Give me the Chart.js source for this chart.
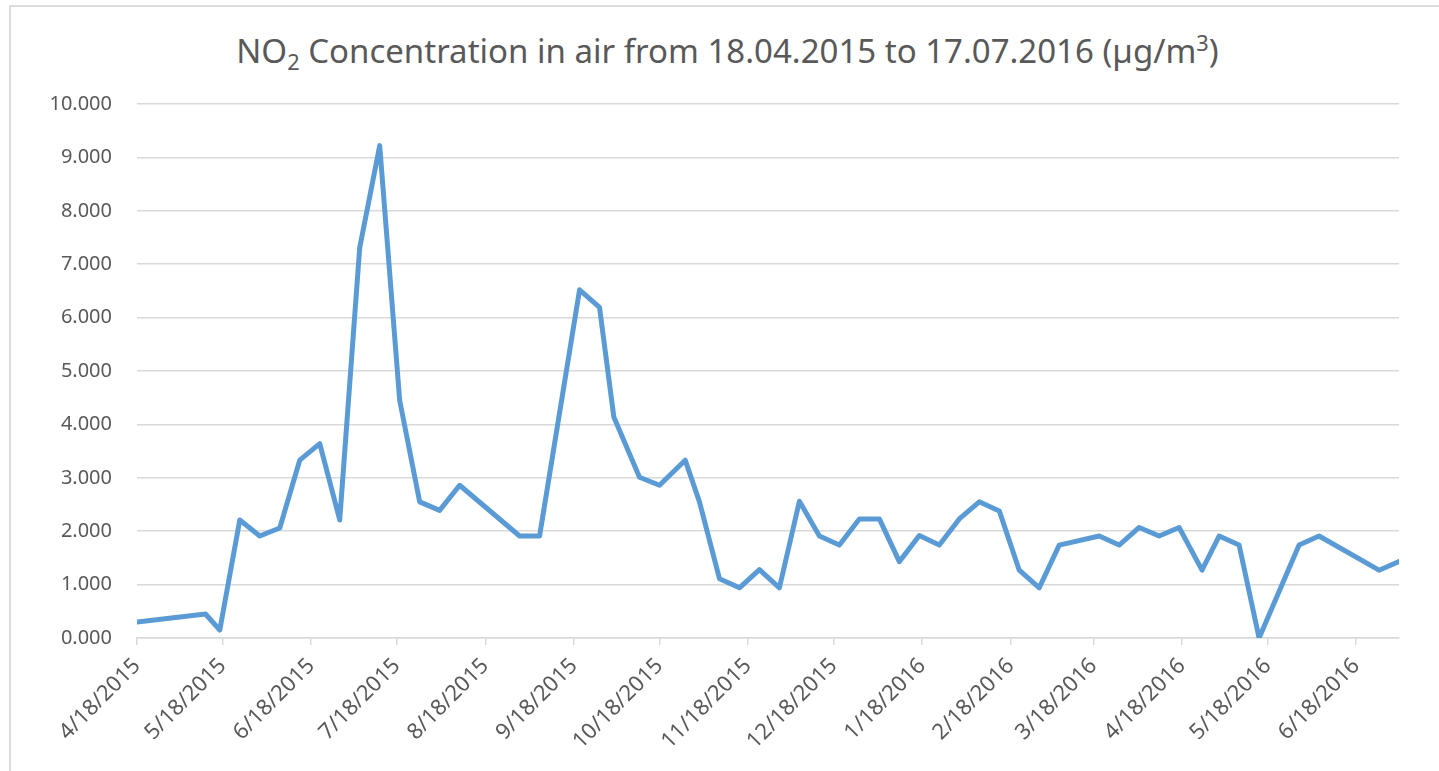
<!DOCTYPE html>
<html>
<head>
<meta charset="utf-8">
<script src="https://cdn.jsdelivr.net/npm/chart.js@4.4.1/dist/chart.umd.min.js"></script>
<style>
  html, body { margin: 0; padding: 0; background: #ffffff; width: 1439px; height: 771px; overflow: hidden; }
  #frame { position: absolute; left: 9px; top: 5px; width: 1500px; height: 820px; border-left: 2px solid #dcdcdc; border-top: 2px solid #dcdcdc; box-sizing: border-box; }
  #title { position: absolute; left: 9px; width: 1437px; top: 35px; height: 40px; line-height: 32px; text-align: center;
           font-family: "Noto Sans", "Open Sans", sans-serif; font-size: 33px; color: #595959; white-space: nowrap; }
  #title sub, #title sup { font-size: 0.66em; line-height: 0; }
  #title sub { vertical-align: -0.3em; }
  #title sup { vertical-align: 0.55em; }
  canvas { position: absolute; left: 0; top: 0; }
</style>
</head>
<body>
<div id="frame"></div>
<div id="title">NO<sub>2</sub> Concentration in air from 18.04.2015 to 17.07.2016 (µg/m<sup>3</sup>)</div>
<canvas id="chart" width="1439" height="771"></canvas>
<script>
// ---- data ----
const startDate = '2015-04-18';
const endDate = '2016-07-03';
const sampleDates = [
  '2015-04-18', '2015-05-12', '2015-05-17', '2015-05-24', '2015-05-31', '2015-06-07',
  '2015-06-14', '2015-06-21', '2015-06-28', '2015-07-05', '2015-07-12', '2015-07-19',
  '2015-07-26', '2015-08-02', '2015-08-09', '2015-08-30', '2015-09-06', '2015-09-20',
  '2015-09-27', '2015-10-02', '2015-10-11', '2015-10-18', '2015-10-27', '2015-11-01',
  '2015-11-08', '2015-11-15', '2015-11-22', '2015-11-29', '2015-12-06', '2015-12-13',
  '2015-12-20', '2015-12-27', '2016-01-03', '2016-01-10', '2016-01-17', '2016-01-24',
  '2016-01-31', '2016-02-07', '2016-02-14', '2016-02-21', '2016-02-28', '2016-03-06',
  '2016-03-20', '2016-03-27', '2016-04-03', '2016-04-10', '2016-04-17', '2016-04-25',
  '2016-05-01', '2016-05-08', '2016-05-15', '2016-05-29', '2016-06-05', '2016-06-26',
  '2016-07-03'
];
const no2Values = [
  0.30, 0.45, 0.15, 2.21, 1.91, 2.06,
  3.33, 3.64, 2.21, 7.31, 9.22, 4.45,
  2.55, 2.39, 2.86, 1.91, 1.91, 6.52,
  6.19, 4.14, 3.01, 2.86, 3.33, 2.55,
  1.11, 0.94, 1.28, 0.94, 2.56, 1.91,
  1.74, 2.23, 2.23, 1.43, 1.92, 1.74,
  2.23, 2.55, 2.38, 1.27, 0.94, 1.74,
  1.91, 1.74, 2.07, 1.91, 2.07, 1.27,
  1.91, 1.74, 0.00, 1.74, 1.91, 1.27,
  1.43
];
const tickDates = [
  '2015-04-18', '2015-05-18', '2015-06-18', '2015-07-18', '2015-08-18', '2015-09-18',
  '2015-10-18', '2015-11-18', '2015-12-18', '2016-01-18', '2016-02-18', '2016-03-18',
  '2016-04-18', '2016-05-18', '2016-06-18'
];
const tickLabels = [
  '4/18/2015', '5/18/2015', '6/18/2015', '7/18/2015', '8/18/2015', '9/18/2015',
  '10/18/2015', '11/18/2015', '12/18/2015', '1/18/2016', '2/18/2016', '3/18/2016',
  '4/18/2016', '5/18/2016', '6/18/2016'
];
const yMin = 0, yMax = 10, yStep = 1;

// ---- helpers ----
function toUTC(s) { const p = s.split('-').map(Number); return Date.UTC(p[0], p[1] - 1, p[2]); }
function dayOf(s) { return Math.round((toUTC(s) - toUTC(startDate)) / 86400000); }
const tickDays = tickDates.map(dayOf);
const points = sampleDates.map((d, i) => ({ x: dayOf(d), y: no2Values[i] }));

const yFont = { family: '"Noto Sans", "Open Sans", sans-serif', size: 20 };
const xFont = { family: '"Noto Sans", "Open Sans", sans-serif', size: 22 };
const textColor = '#595959';
const gridColor = '#d9d9d9';

new Chart(document.getElementById('chart'), {
  type: 'line',
  data: {
    datasets: [{
      data: points,
      borderColor: '#5b9bd5',
      backgroundColor: '#5b9bd5',
      borderWidth: 5,
      pointRadius: 0,
      tension: 0,
      borderJoinStyle: 'round',
      borderCapStyle: 'round',
      fill: false
    }]
  },
  options: {
    responsive: false,
    devicePixelRatio: 1,
    animation: false,
    layout: { padding: { left: 0, right: 40, top: 104, bottom: 0 } },
    plugins: { legend: { display: false }, tooltip: { enabled: false }, title: { display: false } },
    scales: {
      x: {
        type: 'linear',
        min: 0,
        max: dayOf(endDate),
        afterBuildTicks: (scale) => { scale.ticks = tickDays.map(v => ({ value: v })); },
        afterFit: (scale) => { scale.height = 133; },
        grid: { display: true, drawOnChartArea: false, drawTicks: true, tickLength: 7, color: gridColor, lineWidth: 1.5 },
        border: { display: true, color: gridColor, width: 1.5 },
        ticks: {
          autoSkip: false,
          maxRotation: 45,
          minRotation: 45,
          padding: 8,
          color: textColor,
          font: xFont,
          callback: (value, index) => tickLabels[index]
        }
      },
      y: {
        min: yMin,
        max: yMax,
        afterFit: (scale) => { scale.width = 137; },
        grid: { color: gridColor, lineWidth: 1.5, drawTicks: false },
        border: { display: false },
        ticks: {
          stepSize: yStep,
          padding: 25,
          color: textColor,
          font: yFont,
          callback: (v) => Number(v).toFixed(3)
        }
      }
    }
  }
});
</script>
</body>
</html>
